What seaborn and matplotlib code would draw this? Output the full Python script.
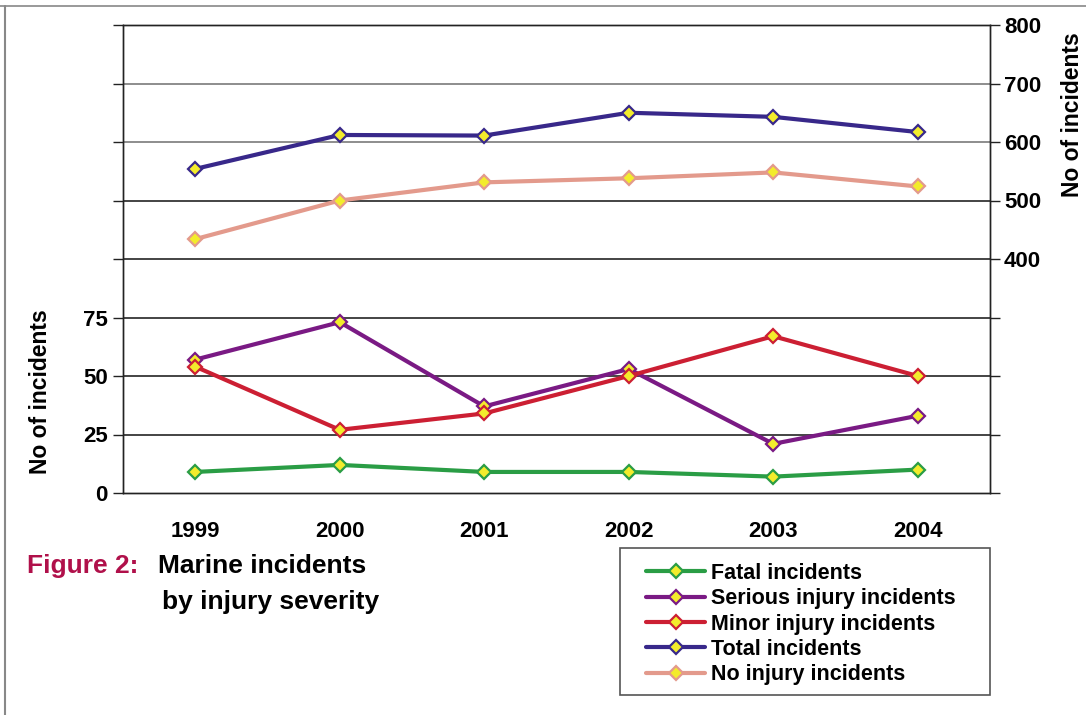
import matplotlib
matplotlib.use("Agg")
import matplotlib.pyplot as plt
from matplotlib.lines import Line2D
from matplotlib.patches import Rectangle
import seaborn as sns
import pandas as pd

# Marine incidents by injury severity, 1999-2004
years = ["1999", "2000", "2001", "2002", "2003", "2004"]
fatal = [9, 12, 9, 9, 7, 10]
serious = [57, 73, 37, 53, 21, 33]
minor = [54, 27, 34, 50, 67, 50]
total = [554, 612, 611, 650, 643, 617]
no_injury = [434, 500, 531, 538, 548, 524]

left_ticks = [0, 25, 50, 75]
right_ticks = [400, 500, 600, 700, 800]

sns.set_style("white")
plt.rcParams["font.family"] = ["Liberation Sans", "DejaVu Sans"]
plt.rcParams["font.weight"] = "bold"
for key in ["text.color", "axes.labelcolor", "xtick.color", "ytick.color"]:
    plt.rcParams[key] = "black"

W, H = 1086, 715
pos = list(range(len(years)))
df = pd.DataFrame({
    "pos": pos,
    "Fatal incidents": fatal,
    "Serious injury incidents": serious,
    "Minor injury incidents": minor,
    "Total incidents": total,
    "No injury incidents": no_injury,
})

colors = {
    "Fatal incidents": "#2a9d45",
    "Serious injury incidents": "#7a1a84",
    "Minor injury incidents": "#cc1f33",
    "Total incidents": "#38288a",
    "No injury incidents": "#e39a8c",
}
marker_fill = "#f3ec2c"
style = dict(linewidth=3, marker="D", markersize=7, markerfacecolor=marker_fill,
             markeredgewidth=1.6)

fig = plt.figure(figsize=(W / 100, H / 100), dpi=100)
ax = fig.add_axes([123 / W, 1 - 493 / H, (990 - 123) / W, (493 - 25) / H])
ax2 = ax.twinx()


def draw(axis, name):
    sns.lineplot(data=df, x="pos", y=name, ax=axis, color=colors[name],
                 markeredgecolor=colors[name], zorder=5, **style)


for name in ["Fatal incidents", "Serious injury incidents", "Minor injury incidents"]:
    draw(ax, name)
for name in ["Total incidents", "No injury incidents"]:
    draw(ax2, name)

# Scales: left axis covers 0-200, right axis covers 0-800, sharing gridlines
ax.set_xlim(-0.5, len(years) - 0.5)
ax.set_ylim(0, 200)
ax2.set_ylim(0, 800)

grid_left = list(range(0, 201, 25))
ax.set_yticks(grid_left)
ax.set_yticklabels([str(v) if v in left_ticks else "" for v in grid_left])
grid_right = list(range(0, 801, 100))
ax2.set_yticks(grid_right)
ax2.set_yticklabels([str(v) if v in right_ticks else "" for v in grid_right])

for v in grid_left[1:-1]:
    shade = "#6f6f6f" if v in (150, 175) else "#111111"
    ax.axhline(v, color=shade, linewidth=1.1, zorder=1)

# Category boundaries carry tick marks, labels sit at centres
ax.set_xticks([p - 0.5 for p in pos] + [len(years) - 0.5])
ax.set_xticklabels([])
ax.set_xticks(pos, minor=True)
ax.set_xticklabels(years, minor=True)
ax.tick_params(axis="x", which="major", direction="out", length=7, width=1, color="#222222")
ax.tick_params(axis="x", which="minor", length=0, pad=20, labelsize=16)
ax.tick_params(axis="y", direction="out", length=7, width=1, color="#222222", labelsize=16, pad=4)
ax2.tick_params(axis="y", direction="out", length=7, width=1, color="#222222", labelsize=16, pad=3)
for lab in ax.get_xticklabels(minor=True) + ax.get_yticklabels() + ax2.get_yticklabels():
    lab.set_fontweight("bold")

ax.set_xlabel("")
ax.set_ylabel("No of incidents", fontsize=16.5, fontweight="bold")
ax.yaxis.set_label_coords(-0.082, 0.217)
ax2.set_ylabel("No of incidents", fontsize=16.5, fontweight="bold")
ax2.yaxis.set_label_coords(1.082, 0.808)

for a in (ax, ax2):
    for s in a.spines.values():
        s.set_color("#222222")
        s.set_linewidth(1.0)

# Legend with a hand-placed frame
order = ["Fatal incidents", "Serious injury incidents", "Minor injury incidents",
         "Total incidents", "No injury incidents"]
handles = [Line2D([0], [0], color=colors[n], markeredgecolor=colors[n], **style)
           for n in order]
fig.legend(handles, order, loc="upper left",
           bbox_to_anchor=(646 / W, 1 - 563 / H),
           prop={"size": 15.5, "weight": "bold"}, frameon=False,
           handlelength=2.75, handletextpad=0.25,
           labelspacing=0.2, borderpad=0, borderaxespad=0)
fig.add_artist(Rectangle((620 / W, 1 - 695 / H), (990 - 620) / W, (695 - 548) / H,
                         transform=fig.transFigure, fill=False,
                         edgecolor="#555555", linewidth=1.2))

# Caption
fig.text(27 / W, 1 - 566 / H, "Figure 2:", color="#b0104a", fontsize=19,
         fontweight="bold", va="center", ha="left")
fig.text(158 / W, 1 - 566 / H, "Marine incidents", color="black", fontsize=19,
         fontweight="bold", va="center", ha="left")
fig.text(162 / W, 1 - 602 / H, "by injury severity", color="black", fontsize=19,
         fontweight="bold", va="center", ha="left")

# Page frame
fig.add_artist(Line2D([0, 1], [1 - 6 / H, 1 - 6 / H], color="#888888", linewidth=1.2))
fig.add_artist(Line2D([5 / W, 5 / W], [0, 1 - 6 / H], color="#888888", linewidth=1.5))

fig.savefig("out.png", dpi=100)
